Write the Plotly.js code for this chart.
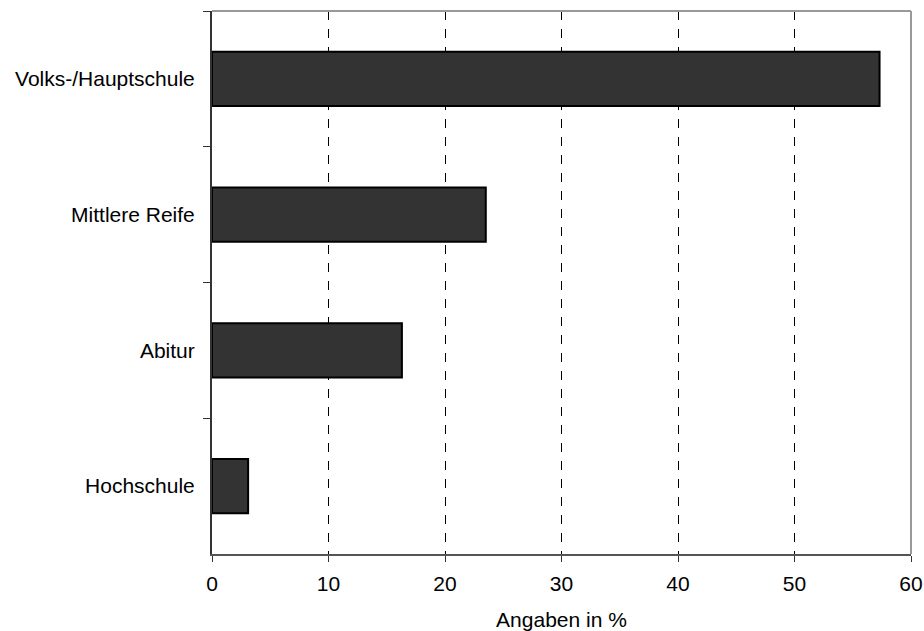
<!DOCTYPE html>
<html>
<head>
<meta charset="utf-8">
<script src="https://cdn.plot.ly/plotly-3.0.1.min.js"></script>
<style>html,body{margin:0;padding:0;background:#fff;}#chart{width:924px;height:631px;}</style>
</head>
<body>
<div id="chart"></div>
<script>
// Data
const categories = ["Volks-/Hauptschule", "Mittlere Reife", "Abitur", "Hochschule"];
const values = [57.3, 23.5, 16.3, 3.1];
const xTickValues = [0, 10, 20, 30, 40, 50, 60];
const xTitle = "Angaben in %";

const FONT = '"Liberation Sans", Arial, sans-serif';

const trace = {
  type: 'bar',
  orientation: 'h',
  x: values,
  y: categories,
  width: 0.4,
  marker: { color: '#333333', line: { color: '#000000', width: 2 } },
  hoverinfo: 'x+y'
};

const layout = {
  width: 924,
  height: 631,
  margin: { l: 212, r: 13, t: 11, b: 77 },
  paper_bgcolor: '#ffffff',
  plot_bgcolor: '#ffffff',
  showlegend: false,
  font: { family: FONT, size: 21, color: '#000000' },
  xaxis: {
    range: [0, 60],
    tickvals: xTickValues,
    ticktext: xTickValues.map(String),
    showgrid: true,
    gridcolor: '#000000',
    gridwidth: 1,
    griddash: '9px,9px',
    zeroline: false,
    showline: true,
    linecolor: '#555555',
    linewidth: 2,
    ticks: 'outside',
    ticklen: 6,
    tickwidth: 1,
    tickcolor: '#333333',
    ticklabelstandoff: 4,
    tickfont: { family: FONT, size: 21, color: '#000000' },
    title: { text: xTitle, font: { family: FONT, size: 21, color: '#000000' }, standoff: 22 },
    fixedrange: true
  },
  yaxis: {
    type: 'category',
    categoryorder: 'array',
    categoryarray: categories,
    autorange: false,
    range: [3.5, -0.5],
    showgrid: false,
    zeroline: false,
    showline: true,
    linecolor: '#333333',
    linewidth: 2,
    ticks: 'outside',
    tickson: 'boundaries',
    ticklen: 7,
    tickwidth: 1,
    tickcolor: '#333333',
    ticklabelstandoff: 11,
    tickfont: { family: FONT, size: 21, color: '#000000' },
    fixedrange: true
  },
  shapes: [
    { type: 'line', xref: 'paper', yref: 'paper', x0: 0, x1: 1, y0: 1, y1: 1, line: { color: '#999999', width: 2 } },
    { type: 'line', xref: 'paper', yref: 'paper', x0: 1, x1: 1, y0: 0, y1: 1, line: { color: '#999999', width: 2 } }
  ],
  bargap: 0.6
};

Plotly.newPlot('chart', [trace], layout, { displayModeBar: false, staticPlot: true });
</script>
</body>
</html>
